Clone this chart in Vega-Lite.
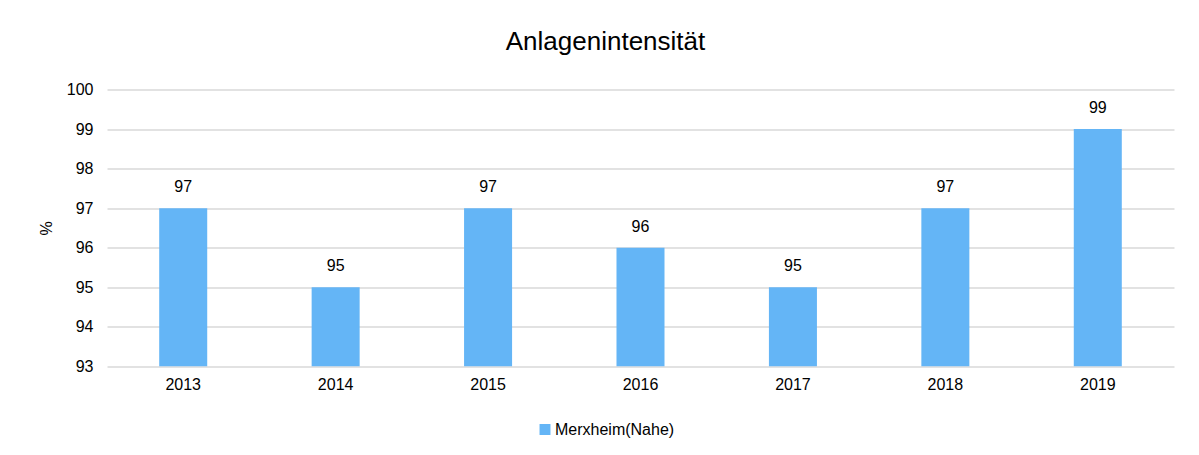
{
  "$schema": "https://vega.github.io/schema/vega-lite/v6.json",
  "width": 1067,
  "height": 277,
  "autosize": {"type": "none"},
  "padding": {"left": 107, "top": 89.5, "right": 25, "bottom": 88.5},
  "background": "white",
  "config": {
    "font": "Liberation Sans",
    "view": {"stroke": null},
    "axis": {"labelFont": "Liberation Sans", "titleFont": "Liberation Sans"}
  },
  "title": {
    "text": "Anlagenintensität",
    "fontSize": 26,
    "fontWeight": "normal",
    "color": "#000000",
    "font": "Liberation Sans",
    "anchor": "middle",
    "dx": -35,
    "offset": 27
  },
  "data": {
    "values": [
      {"year": "2013", "value": 97, "series": "Merxheim(Nahe)"},
      {"year": "2014", "value": 95, "series": "Merxheim(Nahe)"},
      {"year": "2015", "value": 97, "series": "Merxheim(Nahe)"},
      {"year": "2016", "value": 96, "series": "Merxheim(Nahe)"},
      {"year": "2017", "value": 95, "series": "Merxheim(Nahe)"},
      {"year": "2018", "value": 97, "series": "Merxheim(Nahe)"},
      {"year": "2019", "value": 99, "series": "Merxheim(Nahe)"}
    ]
  },
  "encoding": {
    "x": {
      "field": "year",
      "type": "nominal",
      "scale": {"paddingInner": 0.685, "paddingOuter": 0.3425},
      "axis": {
        "title": null,
        "labelAngle": 0,
        "labelFontSize": 16,
        "labelColor": "#000000",
        "labelPadding": 10,
        "domain": false,
        "ticks": false,
        "grid": false
      }
    },
    "y": {
      "field": "value",
      "type": "quantitative",
      "scale": {"domain": [93, 100], "nice": false, "zero": false},
      "axis": {
        "title": "%",
        "titleFontSize": 16,
        "titleFontWeight": "normal",
        "titleColor": "#000000",
        "titlePadding": 12,
        "labelFontSize": 16,
        "labelColor": "#000000",
        "labelPadding": 14,
        "values": [93, 94, 95, 96, 97, 98, 99, 100],
        "domain": false,
        "ticks": false,
        "grid": true,
        "gridColor": "#D9D9D9",
        "gridWidth": 1.5
      }
    }
  },
  "layer": [
    {
      "mark": {"type": "bar", "clip": true},
      "encoding": {
        "y2": {"datum": 93},
        "color": {
          "field": "series",
          "type": "nominal",
          "scale": {"range": ["#64B5F6"]},
          "legend": {
            "title": null,
            "orient": "none",
            "legendX": 430,
            "legendY": 332,
            "symbolType": "square",
            "symbolSize": 120,
            "symbolOpacity": 1,
            "labelFontSize": 16,
            "labelColor": "#000000",
            "labelFont": "Liberation Sans",
            "labelOffset": 2
          }
        }
      }
    },
    {
      "mark": {"type": "text", "fontSize": 16, "color": "#000000", "baseline": "middle", "dy": -21},
      "encoding": {
        "text": {"field": "value", "type": "quantitative"}
      }
    }
  ]
}
